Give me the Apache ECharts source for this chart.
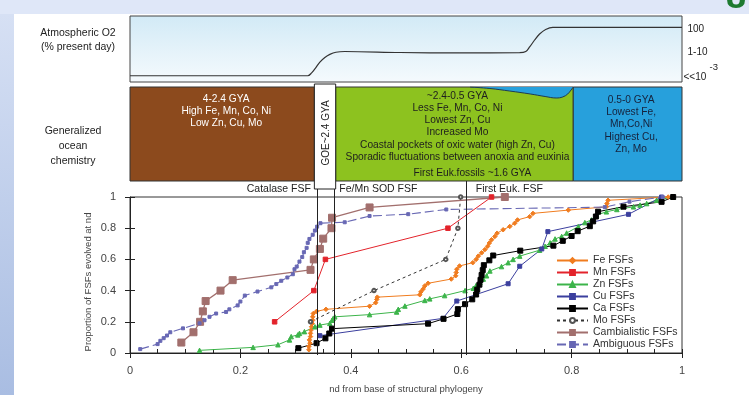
<!DOCTYPE html>
<html><head><meta charset="utf-8">
<script src="https://cdn.jsdelivr.net/npm/echarts@6/dist/echarts.min.js"></script>
<style>html,body{margin:0;padding:0;background:#fff}#c{width:749px;height:395px}</style>
</head><body><div id="c"></div><script>
const FONT = '"Liberation Sans", Arial, sans-serif';

// ---------------- data ----------------
const feFSF = [[0.324,0.021],[0.324,0.042],[0.326,0.063],[0.325,0.084],[0.327,0.105],[0.327,0.126],[0.328,0.147],[0.329,0.168],[0.330,0.189],[0.331,0.210],[0.331,0.232],[0.332,0.253],[0.338,0.267],[0.355,0.280],[0.434,0.300],[0.445,0.322],[0.447,0.343],[0.448,0.358],[0.525,0.373],[0.527,0.392],[0.531,0.410],[0.534,0.430],[0.540,0.447],[0.582,0.474],[0.590,0.495],[0.591,0.516],[0.592,0.537],[0.597,0.558],[0.621,0.579],[0.627,0.600],[0.631,0.621],[0.637,0.642],[0.643,0.663],[0.648,0.684],[0.651,0.705],[0.655,0.726],[0.661,0.747],[0.665,0.768],[0.676,0.790],[0.688,0.811],[0.697,0.832],[0.702,0.853],[0.724,0.874],[0.730,0.895],[0.794,0.916],[0.863,0.937],[0.864,0.958],[0.866,0.979],[0.975,1.000]];
const mnFSF = [[0.262,0.2],[0.333,0.4],[0.354,0.6],[0.576,0.8],[0.655,1.0]];
const znFSF = [[0.126,0.017],[0.223,0.036],[0.268,0.053],[0.289,0.084],[0.292,0.105],[0.304,0.116],[0.307,0.126],[0.316,0.137],[0.335,0.168],[0.344,0.179],[0.362,0.190],[0.366,0.210],[0.368,0.221],[0.371,0.232],[0.434,0.246],[0.483,0.263],[0.486,0.280],[0.498,0.301],[0.534,0.337],[0.543,0.347],[0.570,0.368],[0.607,0.400],[0.622,0.415],[0.627,0.432],[0.634,0.453],[0.640,0.474],[0.646,0.495],[0.652,0.526],[0.673,0.554],[0.685,0.579],[0.694,0.600],[0.706,0.621],[0.742,0.659],[0.752,0.684],[0.761,0.706],[0.770,0.731],[0.782,0.747],[0.791,0.769],[0.812,0.810],[0.824,0.836],[0.836,0.853],[0.845,0.884],[0.863,0.905],[0.882,0.920],[0.912,0.937],[0.924,0.948],[0.936,0.958],[0.954,0.979],[0.984,1.000]];
const cuFSF = [[0.344,0.111],[0.567,0.222],[0.592,0.333],[0.685,0.444],[0.706,0.556],[0.746,0.667],[0.757,0.778],[0.903,0.889],[0.963,1.0]];
const caFSF = [[0.305,0.031],[0.338,0.063],[0.354,0.094],[0.361,0.125],[0.366,0.156],[0.540,0.188],[0.568,0.219],[0.593,0.250],[0.594,0.281],[0.607,0.313],[0.620,0.344],[0.627,0.375],[0.629,0.406],[0.633,0.438],[0.635,0.469],[0.637,0.500],[0.639,0.531],[0.641,0.563],[0.651,0.594],[0.658,0.625],[0.707,0.656],[0.767,0.688],[0.784,0.719],[0.800,0.750],[0.811,0.781],[0.833,0.813],[0.839,0.844],[0.844,0.875],[0.848,0.906],[0.894,0.938],[0.963,0.969],[0.984,1.000]];
const moFSF = [[0.327,0.2],[0.442,0.4],[0.572,0.6],[0.594,0.8],[0.599,1.0]];
const cambFSF = [[0.093,0.067],[0.115,0.133],[0.127,0.200],[0.132,0.267],[0.137,0.333],[0.164,0.400],[0.186,0.467],[0.327,0.533],[0.333,0.600],[0.344,0.667],[0.350,0.733],[0.365,0.800],[0.366,0.867],[0.434,0.933],[0.679,1.000]];
const ambFSF = [[0.0185,0.025],[0.050,0.057],[0.055,0.078],[0.061,0.095],[0.067,0.112],[0.073,0.133],[0.096,0.158],[0.126,0.190],[0.135,0.210],[0.144,0.232],[0.156,0.253],[0.174,0.263],[0.180,0.280],[0.195,0.305],[0.200,0.330],[0.208,0.368],[0.231,0.394],[0.256,0.421],[0.265,0.442],[0.274,0.463],[0.285,0.484],[0.295,0.505],[0.298,0.537],[0.302,0.554],[0.307,0.586],[0.312,0.615],[0.315,0.646],[0.320,0.674],[0.322,0.706],[0.325,0.731],[0.331,0.758],[0.335,0.785],[0.339,0.810],[0.345,0.832],[0.389,0.838],[0.434,0.878],[0.504,0.890],[0.573,0.920],[0.860,0.935],[0.905,0.970],[0.965,1.000]];

const seriesNames = ['Fe FSFs','Mn FSFs','Zn FSFs','Cu FSFs','Ca FSFs','Mo FSFs','Cambialistic FSFs','Ambiguous FSFs'];

// atmospheric O2 (levels: 0 = <<10^-3, 1 = 1-10, ~2 = 100 % present day)
const o2Curve = [[0,0.03],[0.322,0.03],[0.329,0.15],[0.336,0.35],[0.344,0.6],[0.353,0.79],[0.362,0.92],[0.373,1.01],[0.389,1.04],[0.489,1.0],[0.597,0.98],[0.706,0.99],[0.717,1.04],[0.724,1.23],[0.733,1.52],[0.742,1.77],[0.753,1.96],[0.766,2.05],[1.0,2.05]];
const o2Levels = [0, 1, 1.95];
const o2LevelLabels = ['<<10', '1-10', '100'];

// ocean chemistry eras along the nd axis
const eraBounds = [0, 0.334, 0.3726, 0.803, 1];
const eraBrownText = ['4-2.4 GYA','High Fe, Mn, Co, Ni','Low Zn, Cu, Mo'];
const eraGreenText = ['~2.4-0.5 GYA','Less Fe, Mn, Co, Ni','Lowest Zn, Cu','Increased Mo','Coastal pockets of oxic water (high Zn, Cu)','Sporadic fluctuations between anoxia and euxinia'];
const eraGreenNote = 'First Euk.fossils ~1.6 GYA';
const eraBlueText = ['0.5-0 GYA','Lowest Fe,','Mn,Co,Ni','Highest Cu,','Zn, Mo'];
const goeText = 'GOE~2.4 GYA';
const waveCurve = [[0.616,1.0],[0.652,0.984],[0.688,0.957],[0.725,0.926],[0.752,0.899],[0.772,0.883],[0.784,0.894],[0.793,0.926],[0.799,0.968],[0.803,1.0]];

// first-appearance events
const fsfEvents = [0.335, 0.3745, 0.61];
const fsfEventNames = ['Catalase FSF','Fe/Mn SOD FSF','First Euk. FSF'];

// ---------------- chart ----------------
const chart = echarts.init(document.getElementById('c'));

function mk(name, data, color, symbol, size, lineType, lw, symColor) {
  return {
    name, type:'line', data, xAxisIndex:2, yAxisIndex:2,
    symbol, symbolSize:size, showSymbol:true, clip:false,
    itemStyle:{color:symColor||color, borderColor:symColor||color, borderWidth:1},
    lineStyle:{color, width:lw||1, type:lineType||'solid'},
    emphasis:{disabled:true}, z:3
  };
}

const axisCol = '#222';
const option = {
  animation:false,
  textStyle:{fontFamily:FONT},
  grid:[
    {left:130, right:67, top:16, height:66, show:true, borderColor:'#444', borderWidth:1,
     backgroundColor:new echarts.graphic.LinearGradient(0,0,0,1,[{offset:0,color:'#d2eaf6'},{offset:1,color:'#f5fafd'}])},
    {left:130, right:67, top:87, height:94, show:false},
    {left:130, right:67, top:197, height:158, show:true, borderColor:'#333', borderWidth:1, backgroundColor:'rgba(0,0,0,0)'},
    {left:130, right:67, top:181, height:174, show:false}
  ],
  xAxis:[
    {gridIndex:0, type:'value', min:0, max:1, show:false},
    {gridIndex:1, type:'value', min:0, max:1, show:false},
    {gridIndex:2, type:'value', min:0, max:1, interval:0.2, position:'bottom',
     axisLine:{show:true, lineStyle:{color:axisCol}},
     axisTick:{show:true, inside:false, length:5, lineStyle:{color:axisCol}},
     axisLabel:{color:'#444', fontSize:11, margin:12},
     splitLine:{show:false},
     name:'nd from base of structural phylogeny', nameLocation:'middle', nameGap:31,
     nameTextStyle:{fontSize:9.5, color:'#444'}},
    {gridIndex:2, type:'value', min:0, max:1, interval:0.05, position:'bottom',
     axisLine:{show:false}, axisTick:{show:true, inside:true, length:4, lineStyle:{color:axisCol}},
     axisLabel:{show:false}, splitLine:{show:false}},
    {gridIndex:3, type:'value', min:0, max:1, show:false}
  ],
  yAxis:[
    {gridIndex:0, type:'value', min:-0.23, max:2.52, show:false},
    {gridIndex:1, type:'value', min:0, max:1, show:false},
    {gridIndex:2, type:'value', min:0, max:1, interval:0.2, position:'left',
     axisLine:{show:true, lineStyle:{color:axisCol}},
     axisTick:{show:true, inside:false, length:5, lineStyle:{color:axisCol}},
     axisLabel:{color:'#444', fontSize:11, margin:14},
     splitLine:{show:false},
     name:'Proportion of FSFs evolved at nd', nameLocation:'middle', nameGap:37, nameRotate:90,
     nameMoveOverlap:false,
     nameTextStyle:{fontSize:9.5, color:'#444', padding:[0,14,0,0]}},
    {gridIndex:2, type:'value', min:0, max:1, interval:0.2, position:'left',
     axisLine:{show:false}, axisTick:{show:true, inside:true, length:5, lineStyle:{color:axisCol}},
     axisLabel:{show:false}, splitLine:{show:false}},
    {gridIndex:3, type:'value', min:0, max:1, show:false}
  ],
  legend:{
    data:seriesNames, orient:'vertical', left:556, top:255, padding:0,
    itemWidth:31, itemHeight:6, itemGap:1,
    textStyle:{fontSize:10.5, color:'#333', lineHeight:11}
  },
  series:[
    // O2 curve
    {type:'line', xAxisIndex:0, yAxisIndex:0, data:o2Curve, smooth:0.35, symbol:'none',
     lineStyle:{color:'#333', width:1.2}, silent:true, z:3},
    // ocean eras
    {type:'line', xAxisIndex:1, yAxisIndex:1, data:[[0,0]], symbol:'none', lineStyle:{opacity:0}, silent:true, z:1,
     markArea:{silent:true, label:{show:false},
       data:[
         [{xAxis:eraBounds[0], itemStyle:{color:'#8c4a1d', borderColor:'#333', borderWidth:1}},{xAxis:eraBounds[1]}],
         [{xAxis:eraBounds[2], itemStyle:{color:'#8dc21f', borderColor:'#333', borderWidth:1}},{xAxis:eraBounds[3]}],
         [{xAxis:eraBounds[3], itemStyle:{color:'#27a0dc', borderColor:'#333', borderWidth:1}},{xAxis:eraBounds[4]}]
       ]}},
    // blue wave on green era
    {type:'line', xAxisIndex:1, yAxisIndex:1, data:waveCurve, smooth:0.4, symbol:'none', silent:true, z:4,
     lineStyle:{color:'#1d3b55', width:1}, areaStyle:{color:'#27a0dc', opacity:1, origin:'end'}},
    // FSF event lines
    {type:'line', xAxisIndex:4, yAxisIndex:4, data:[[0,0]], symbol:'none', lineStyle:{opacity:0}, silent:true, z:2,
     markLine:{silent:true, symbol:'none', label:{show:false}, animation:false,
       lineStyle:{color:'#222', width:1, type:'solid'},
       data:fsfEvents.map(v=>({xAxis:v}))}},
    mk(seriesNames[0], feFSF, '#f07c1f', 'diamond', 4.5),
    mk(seriesNames[1], mnFSF, '#e3232b', 'rect', 4.5),
    mk(seriesNames[2], znFSF, '#3cb44a', 'triangle', 4.5),
    mk(seriesNames[3], cuFSF, '#3b3f9e', 'rect', 4),
    mk(seriesNames[4], caFSF, '#000000', 'rect', 5),
    mk(seriesNames[5], moFSF, '#333333', 'emptyCircle', 3.5, [3,3], 1, '#555'),
    mk(seriesNames[6], cambFSF, '#a26f6d', 'rect', 7, 'solid', 1.3),
    mk(seriesNames[7], ambFSF, '#6868b4', 'rect', 3, [9,4], 1.1)
  ]
};
chart.setOption(option);

// ---------------- annotations positioned via the axes ----------------
const X = v => chart.convertToPixel({xAxisIndex:1}, v);
const YO2 = v => chart.convertToPixel({yAxisIndex:0}, v);
function txt(text, x, y, size, color, align, extra) {
  return Object.assign({type:'text', x, y, z:100, silent:true,
    style:{text, fill:color, fontSize:size, fontFamily:FONT, align:align||'center', verticalAlign:'middle'}}, extra||{});
}
const g = [];
// page background bands
g.push({type:'rect', z:-10, silent:true, shape:{x:0,y:0,width:749,height:14}, style:{fill:'#dfe7f8'}});
g.push({type:'rect', z:-10, silent:true, shape:{x:0,y:14,width:14,height:381},
  style:{fill:new echarts.graphic.LinearGradient(0,0,0,1,[{offset:0,color:'#d6e0f4'},{offset:1,color:'#a9bde2'}])}});
g.push({type:'text', x:736, y:16, z:100, silent:true,
  style:{text:'8', fill:'#1d7a30', fontSize:36, fontWeight:'bold', fontFamily:FONT, align:'center', verticalAlign:'bottom'}});

// left labels
g.push(txt('Atmospheric O2', 78, 33, 10.5, '#222'));
g.push(txt('(% present day)', 78, 47, 10.5, '#222'));
g.push(txt('Generalized', 73, 131, 10.5, '#222'));
g.push(txt('ocean', 73, 146, 10.5, '#222'));
g.push(txt('chemistry', 73, 161, 10.5, '#222'));

// O2 level labels
o2Levels.forEach((lv,i)=>{
  const isLow = i===0;
  g.push(txt(o2LevelLabels[i], isLow?683.5:687.5, YO2(lv)+(isLow?1:0), 10, '#222', 'left'));
});
g.push(txt('-3', 709.5, YO2(o2Levels[0])-9, 9.5, '#222', 'left'));

// GOE box
const gx1 = X(eraBounds[1]), gx2 = X(eraBounds[2]);
g.push({type:'rect', z:90, silent:true, shape:{x:gx1, y:84, width:gx2-gx1, height:105}, style:{fill:'#fff', stroke:'#222', lineWidth:1}});
g.push(txt(goeText, (gx1+gx2)/2+1, 133, 10, '#222', 'center', {rotation:Math.PI/2}));

// era texts
const PF = 10.2;
const cB = (X(eraBounds[0])+X(eraBounds[1]))/2 + 4;
eraBrownText.forEach((t,i)=>g.push(txt(t, cB, 99.5+i*12, PF, '#ffffff')));
const cG = (X(eraBounds[2])+X(eraBounds[3]))/2 + 3;
eraGreenText.forEach((t,i)=>g.push(txt(t, cG, 96+i*12.2, PF, '#1e1e1e')));
g.push(txt(eraGreenNote, cG+15, 173.5, PF, '#1e1e1e'));
const cBl = (X(eraBounds[3])+X(eraBounds[4]))/2 + 3.5;
eraBlueText.forEach((t,i)=>g.push(txt(t, cBl, 100+i*12.3, PF, '#16223c')));

// FSF event labels
const ex = fsfEvents.map(X);
g.push(txt(fsfEventNames[0], ex[0]-4, 189.5, 10.5, '#222', 'right'));
g.push(txt(fsfEventNames[1], ex[1]+2.5, 189.5, 10.5, '#222', 'left'));
g.push(txt(fsfEventNames[2], ex[2]+9, 189, 10.5, '#222', 'left'));

chart.setOption({graphic:{elements:g}});
</script></body></html>
